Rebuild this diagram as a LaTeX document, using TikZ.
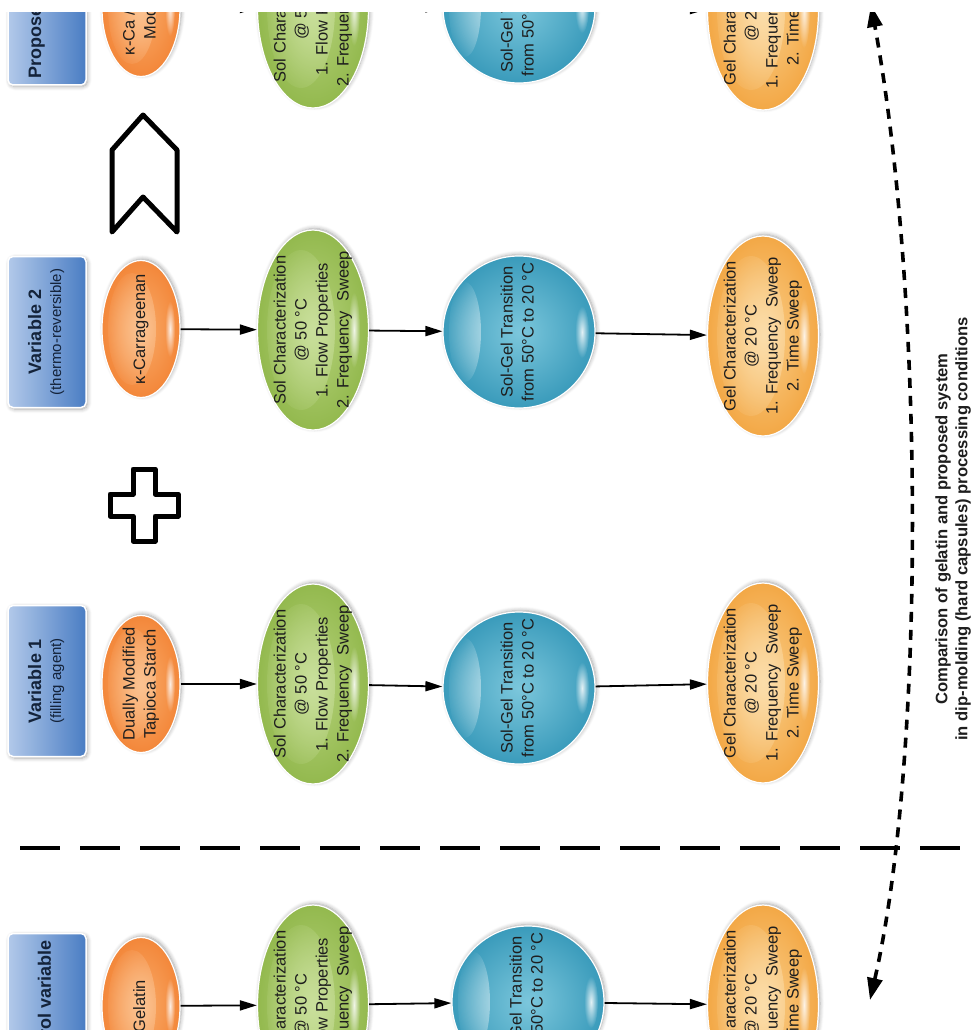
\documentclass[tikz,border=0pt]{standalone}
\usepackage{fontspec}
\setmainfont{Liberation Sans}
\usepackage{graphicx}
\usetikzlibrary{shapes.geometric, arrows.meta, shadows.blur, fadings}
\definecolor{oIn}{HTML}{F9AC6A}
\definecolor{oOut}{HTML}{F3873A}
\definecolor{oGlow}{HTML}{FCC799}
\definecolor{gIn}{HTML}{B6D27C}
\definecolor{gOut}{HTML}{93B94E}
\definecolor{gGlow}{HTML}{CDE2A2}
\definecolor{bIn}{HTML}{7CC7DC}
\definecolor{bOut}{HTML}{3A9BBB}
\definecolor{lIn}{HTML}{FAD08C}
\definecolor{lOut}{HTML}{F3A846}
\definecolor{lGlow}{HTML}{FCE0B0}
\definecolor{boxL}{HTML}{B2C9EA}
\definecolor{boxM}{HTML}{6A96D4}
\definecolor{boxR}{HTML}{4A7DC3}
\definecolor{txt}{HTML}{1E1E1E}
\definecolor{boxtxt}{HTML}{14233A}
\newcommand{\rottext}[1]{\rotatebox{90}{\begin{tabular}{@{}c@{}}#1\end{tabular}}}
\newcommand{\boxhead}{\fontsize{18}{20}\selectfont\bfseries}
\tikzfading[name=glow, inner color=transparent!15, outer color=transparent!100]
\tikzset{
  shapebase/.style={inner sep=-15pt, draw=white, line width=1.2pt, text=txt,
    font=\fontsize{16.5}{21}\selectfont,
    blur shadow={shadow xshift=1.5pt, shadow yshift=1.5pt, shadow blur radius=4pt,
      shadow opacity=35, shadow blur steps=6}},
  orangeE/.style={shapebase, ellipse, minimum width=78pt, minimum height=137pt,
    inner color=oIn, outer color=oOut,
    path picture={
      \fill[oGlow, path fading=glow] ([xshift=-9pt]path picture bounding box.center)
        ellipse [x radius=24pt, y radius=56pt];
      \fill[white, path fading=glow] ([xshift=29pt]path picture bounding box.center)
        ellipse [x radius=5pt, y radius=28pt];
    }},
  greenE/.style={shapebase, ellipse, minimum width=111pt, minimum height=200pt,
    inner color=gIn, outer color=gOut,
    path picture={
      \fill[gGlow, path fading=glow] ([xshift=-12pt]path picture bounding box.center)
        ellipse [x radius=34pt, y radius=80pt];
      \fill[white, path fading=glow] ([xshift=41pt]path picture bounding box.center)
        ellipse [x radius=6pt, y radius=38pt];
    }},
  gelE/.style={shapebase, ellipse, minimum width=111pt, minimum height=200pt,
    inner color=lIn, outer color=lOut,
    path picture={
      \fill[lGlow, path fading=glow] ([xshift=-12pt]path picture bounding box.center)
        ellipse [x radius=34pt, y radius=80pt];
      \fill[white, path fading=glow] ([xshift=41pt]path picture bounding box.center)
        ellipse [x radius=6pt, y radius=38pt];
    }},
  blueC/.style={shapebase, inner sep=0pt, circle, minimum size=152pt,
    inner color=bIn, outer color=bOut,
    path picture={
      \fill[white, path fading=glow] ([xshift=-54pt]path picture bounding box.center)
        ellipse [x radius=16pt, y radius=50pt];
      \fill[white, path fading=glow] ([xshift=63pt]path picture bounding box.center)
        ellipse [x radius=7pt, y radius=26pt];
    }},
  vbox/.style={rectangle, rounded corners=5pt, minimum width=78pt, minimum height=151pt,
    inner sep=0pt, left color=boxL, middle color=boxM, right color=boxR,
    draw=white, line width=1.5pt, text=boxtxt, font=\fontsize{15}{20}\selectfont,
    blur shadow={shadow xshift=1.5pt, shadow yshift=-1.5pt, shadow blur radius=4pt,
      shadow opacity=35, shadow blur steps=6}},
  arr/.style={line width=1.8pt, -{Triangle[length=17pt,width=10pt]}},
  bigdash/.style={line width=4pt, dash pattern=on 40pt off 20pt},
  curvedash/.style={line width=3.6pt, dash pattern=on 10pt off 8pt,
    {Triangle[length=22pt,width=15pt]}-{Triangle[length=22pt,width=15pt]}},
  symb/.style={line width=5pt, line join=round},
}
\begin{document}
\begin{tikzpicture}[x=1pt, y=-1pt]
\useasboundingbox (0,0) rectangle (974,1030);
\begin{scope}
\clip (0,13) rectangle (974,1030);

% row boxes
\node[vbox, minimum height=164pt] (boxP) at (47,3) {\rottext{{\boxhead Proposed system}\\ \strut}};
\node[vbox] (boxV2) at (47,332) {\rottext{{\boxhead Variable 2}\\(thermo-reversible)}};
\node[vbox] (boxV1) at (47,681) {\rottext{{\boxhead Variable 1}\\(filling agent)}};
\node[vbox] (boxC) at (47,1009) {\rottext{{\boxhead Control variable}}};

% materials
\node[orangeE] (oP) at (141,8) {\rottext{κ-Ca / Dually\\Modified}};
\node[orangeE] (oV2) at (141,329) {\rottext{κ-Carrageenan}};
\node[orangeE] (oV1) at (141,684) {\rottext{Dually Modified\\Tapioca Starch}};
\node[orangeE] (oC) at (141,1006) {\rottext{Gelatin}};

% sol characterization
\foreach \r/\yy in {P/8, V2/330, V1/684, C/1005}{
  \node[greenE] (g\r) at (313,\yy) {\rottext{Sol Characterization\\@ 50 °C\\1. Flow Properties\\2. Frequency\ \ Sweep}};
}
% sol-gel transition
\foreach \r/\xx/\yy in {P/519/7, V2/519/332, V1/519/688, C/528/1002}{
  \node[blueC] (b\r) at (\xx,\yy) {\rottext{Sol-Gel Transition\\from 50°C to 20 °C}};
}
% gel characterization
\foreach \r/\yy in {P/10, V2/336, V1/683, C/1005}{
  \node[gelE] (l\r) at (763,\yy) {\rottext{Gel Characterization\\@ 20 °C\\1. Frequency\ \ Sweep\\2. Time Sweep}};
}

% connectors
\foreach \r in {P, V2, V1, C}{
  \draw[arr] (o\r) -- (g\r);
  \draw[arr] (g\r) -- (b\r);
  \draw[arr] (b\r) -- (l\r);
}

% chevron and plus
\draw[symb] (143,115) -- (177,150) -- (177,232) -- (143,197) -- (112,232) -- (112,150) -- cycle;
\draw[symb] (133,469) -- (155,469) -- (155,494) -- (178,494) -- (178,516) -- (155,516)
  -- (155,541) -- (133,541) -- (133,516) -- (110,516) -- (110,494) -- (133,494) -- cycle;

% separator
\coordinate (sepL) at (14,848);
\coordinate (sepR) at (960,848);
\draw[bigdash, dash phase=-6pt] (sepL) -- (sepR);

% comparison arrow
\coordinate (cmpTop) at (871,5);
\coordinate (cmpBot) at (870,1000);
\draw[curvedash] (cmpBot) .. controls (925,760) and (925,300) .. (cmpTop);

\node[rotate=90, align=center, font=\fontsize{16.6}{20}\selectfont\bfseries, text=txt]
  (cmpText) at (953,529) {Comparison of gelatin and proposed system\\in dip-molding (hard capsules) processing conditions};
\end{scope}
\end{tikzpicture}
\end{document}
